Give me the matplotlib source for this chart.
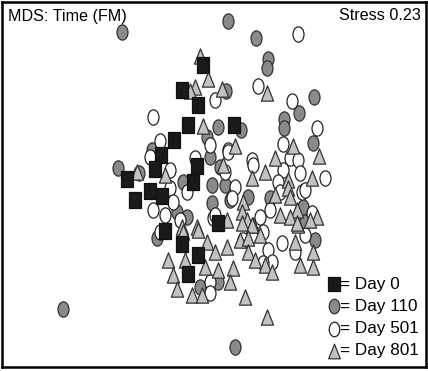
import matplotlib
matplotlib.use('Agg')
import matplotlib.pyplot as plt
from matplotlib.path import Path
from matplotlib.transforms import Affine2D

# MDS coordinates (axis 1 left->right, axis 2 top->bottom)
day0_x = [203, 182, 198, 188, 174, 234, 161, 155, 197, 127, 193, 150, 162, 135, 165, 218, 182, 198, 188]
day0_y = [65, 90, 105, 125, 140, 125, 155, 169, 166, 179, 182, 191, 196, 200, 231, 223, 244, 255, 274]

day110_x = [122, 228, 256, 268, 267, 226, 314, 299, 284, 284, 218, 241, 207, 152, 313, 210, 118, 139,
            183, 212, 225, 212, 177, 187, 248, 270, 230, 303, 220, 305, 315, 157, 218, 200, 235, 63]
day110_y = [32, 21, 38, 59, 68, 91, 97, 113, 119, 128, 127, 130, 137, 150, 143, 157, 168, 173,
            182, 185, 185, 203, 212, 217, 197, 198, 200, 207, 167, 222, 240, 238, 282, 287, 347, 309]

day501_x = [298, 258, 215, 292, 317, 153, 160, 210, 228, 283, 150, 195, 170, 187, 170, 173, 153, 165,
            180, 213, 228, 252, 253, 290, 298, 225, 283, 300, 325, 235, 278, 280, 302, 305, 232, 270,
            312, 215, 260, 160, 210, 220, 263, 243, 268, 272, 263, 282, 295, 305, 210]
day501_y = [34, 86, 100, 101, 128, 117, 141, 145, 150, 144, 157, 158, 170, 192, 188, 202, 210, 215,
            220, 218, 152, 160, 165, 158, 160, 172, 170, 173, 178, 187, 182, 192, 192, 190, 198, 210,
            213, 215, 217, 232, 282, 223, 232, 240, 250, 262, 263, 243, 252, 235, 293]

day801_x = [200, 208, 195, 190, 222, 267, 203, 235, 293, 319, 137, 165, 182, 197, 275, 223, 265, 252,
            288, 312, 288, 275, 290, 243, 242, 297, 317, 280, 290, 227, 247, 253, 242, 298, 310, 168,
            183, 198, 185, 207, 215, 227, 205, 218, 173, 177, 192, 202, 233, 230, 240, 245, 252, 260,
            248, 248, 255, 265, 272, 267, 295, 300, 313, 313, 297]
day801_y = [56, 79, 87, 91, 89, 93, 126, 146, 146, 156, 172, 175, 227, 227, 158, 165, 172, 178,
            180, 178, 188, 195, 197, 202, 212, 210, 217, 215, 217, 220, 220, 225, 223, 225, 220, 260,
            232, 230, 260, 242, 252, 247, 267, 270, 275, 289, 295, 295, 268, 282, 240, 297, 225, 235,
            238, 252, 260, 265, 272, 317, 242, 265, 267, 252, 223]

legend_labels = ['= Day 0', '= Day 110', '= Day 501', '= Day 801']

# markers are a bit narrower than tall in the original
sq = Path([(-0.4, -0.5), (0.4, -0.5), (0.4, 0.5), (-0.4, 0.5), (-0.4, -0.5)],
          [Path.MOVETO, Path.LINETO, Path.LINETO, Path.LINETO, Path.CLOSEPOLY])
ell = Path.unit_circle().transformed(Affine2D().scale(0.36, 0.5))
tri = Path([(-0.4, -0.5), (0.4, -0.5), (0.0, 0.5), (-0.4, -0.5)],
           [Path.MOVETO, Path.LINETO, Path.LINETO, Path.CLOSEPOLY])

styles = [
    dict(marker=sq, mfc='#1a1a1a', mec='#111111'),
    dict(marker=ell, mfc='#8a8a8a', mec='#333333'),
    dict(marker=ell, mfc='white', mec='#222222'),
    dict(marker=tri, mfc='#c2c2c2', mec='#333333'),
]

fig = plt.figure(figsize=(4.28, 3.71), dpi=100)
ax = fig.add_axes([2 / 428, 4 / 371, 424 / 428, 365 / 371])

ms = 11
ax.plot(day110_x, day110_y, ls='none', ms=ms, mew=0.9, **styles[1])
ax.plot(day501_x, day501_y, ls='none', ms=ms, mew=0.9, **styles[2])
ax.plot(day801_x, day801_y, ls='none', ms=ms, mew=0.9, **styles[3])
ax.plot(day0_x, day0_y, ls='none', ms=ms, mew=0.9, **styles[0])

# legend, drawn by hand in the lower right corner
leg_y = [284, 306, 329, 351]
for st, lab, yy in zip(styles, legend_labels, leg_y):
    ax.plot([334], [yy], ls='none', ms=10.5, mew=0.9, **st)
    ax.text(340, yy, lab, fontsize=12.3, family='Liberation Sans', va='center', ha='left')

ax.text(8, 16, 'MDS: Time (FM)', fontsize=11.6, family='Liberation Sans', va='center')
ax.text(421, 16, 'Stress 0.23', fontsize=11.6, family='Liberation Sans', va='center', ha='right')

ax.set_xlim(2, 426)
ax.set_ylim(367, 2)
ax.set_xticks([])
ax.set_yticks([])
for s in ax.spines.values():
    s.set_linewidth(1.8)

fig.savefig('out.png', dpi=100)
